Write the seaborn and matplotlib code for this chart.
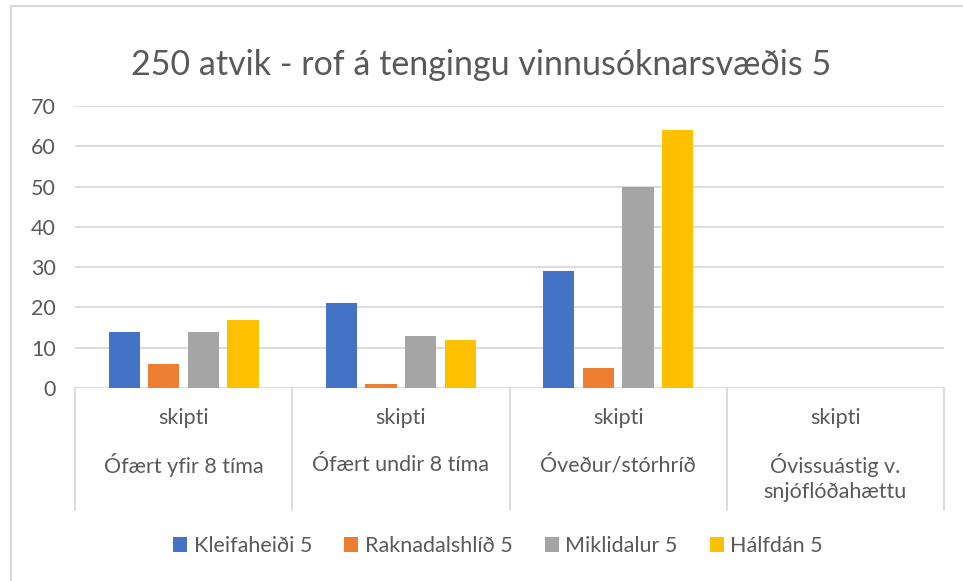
import matplotlib
matplotlib.use("Agg")
import matplotlib.pyplot as plt
import matplotlib.patches as mpatches
import seaborn as sns
import pandas as pd

categories = ["Ófært yfir 8 tíma", "Ófært undir 8 tíma", "Óveður/stórhríð",
              "Óvissuástig v.\nsnjóflóðahættu"]
inner_label = "skipti"
series = ["Kleifaheiði 5", "Raknadalshlíð 5", "Miklidalur 5", "Hálfdán 5"]
kleifaheidi = [14, 21, 29, 0]
raknadalshlid = [6, 1, 5, 0]
miklidalur = [14, 13, 50, 0]
halfdan = [17, 12, 64, 0]
colors = ["#4472C4", "#ED7D31", "#A5A5A5", "#FFC000"]
yticks = [0, 10, 20, 30, 40, 50, 60, 70]
title = "250 atvik - rof á tengingu vinnusóknarsvæðis 5"

rows = []
for s, vals in zip(series, [kleifaheidi, raknadalshlid, miklidalur, halfdan]):
    for c, v in zip(categories, vals):
        rows.append({"cat": c, "series": s, "value": v})
df = pd.DataFrame(rows)

sns.set_theme(style="white")
plt.rcParams["font.family"] = ["Lato", "DejaVu Sans"]
txt = "#595959"
grid = "#D9D9D9"
fs = 15.5

W, H = 963, 581
fig = plt.figure(figsize=(W / 100, H / 100), dpi=100)
left, right, y0, y70 = 75, 944, 388, 106
ax = fig.add_axes([left / W, (H - y0) / H, (right - left) / W, (y0 - y70) / H])

sns.barplot(data=df, x="cat", y="value", hue="series", order=categories,
            hue_order=series, palette=colors, width=0.728, gap=0.21,
            saturation=1, ax=ax, legend=False, edgecolor="none")

ax.set_ylim(0, 70)
ax.set_xlim(-0.5, 3.5)
ax.set_yticks(yticks)
ax.set_yticklabels([str(t) for t in yticks], color=txt, fontsize=fs)
ax.tick_params(axis="y", length=0, pad=14)
ax.set_xticks([])
ax.set_xlabel("")
ax.set_ylabel("")
for sp in ax.spines.values():
    sp.set_visible(False)
for t in yticks:
    ax.axhline(t, color=grid, lw=1.3, zorder=0)

xt = ax.get_xaxis_transform()
ah = y0 - y70
def ay(py):
    return (y0 - py) / ah

for b in [-0.5, 0.5, 1.5, 2.5, 3.5]:
    ax.plot([b, b], [0, ay(510)], transform=xt, color=grid, lw=1.3, clip_on=False)

for i, c in enumerate(categories):
    ax.text(i, ay(418), inner_label, transform=xt, ha="center", va="center",
            color=txt, fontsize=fs)
    for j, line in enumerate(c.split("\n")):
        ax.text(i, ay(465 + 27 * j), line, transform=xt, ha="center", va="center",
                color=txt, fontsize=fs)

fig.text(0.5, 1 - 65 / H, title, ha="center", va="center", color=txt, fontsize=24.5)

handles = [mpatches.Patch(facecolor=col, edgecolor="none", label=s)
           for s, col in zip(series, colors)]
leg = fig.legend(handles=handles, loc="center", bbox_to_anchor=(498 / W, 1 - 546 / H),
                 ncol=4, frameon=False, fontsize=fs, handlelength=0.65,
                 handleheight=0.65, handletextpad=0.3, columnspacing=1.5)
for t in leg.get_texts():
    t.set_color(txt)

fig.add_artist(plt.Line2D([11 / W, 11 / W], [0, 1 - 6 / H], transform=fig.transFigure,
                          color=grid, lw=1.5))
fig.add_artist(plt.Line2D([11 / W, 1], [1 - 6 / H, 1 - 6 / H], transform=fig.transFigure,
                          color=grid, lw=1.5))

fig.savefig("out.png", dpi=100, facecolor="white")
